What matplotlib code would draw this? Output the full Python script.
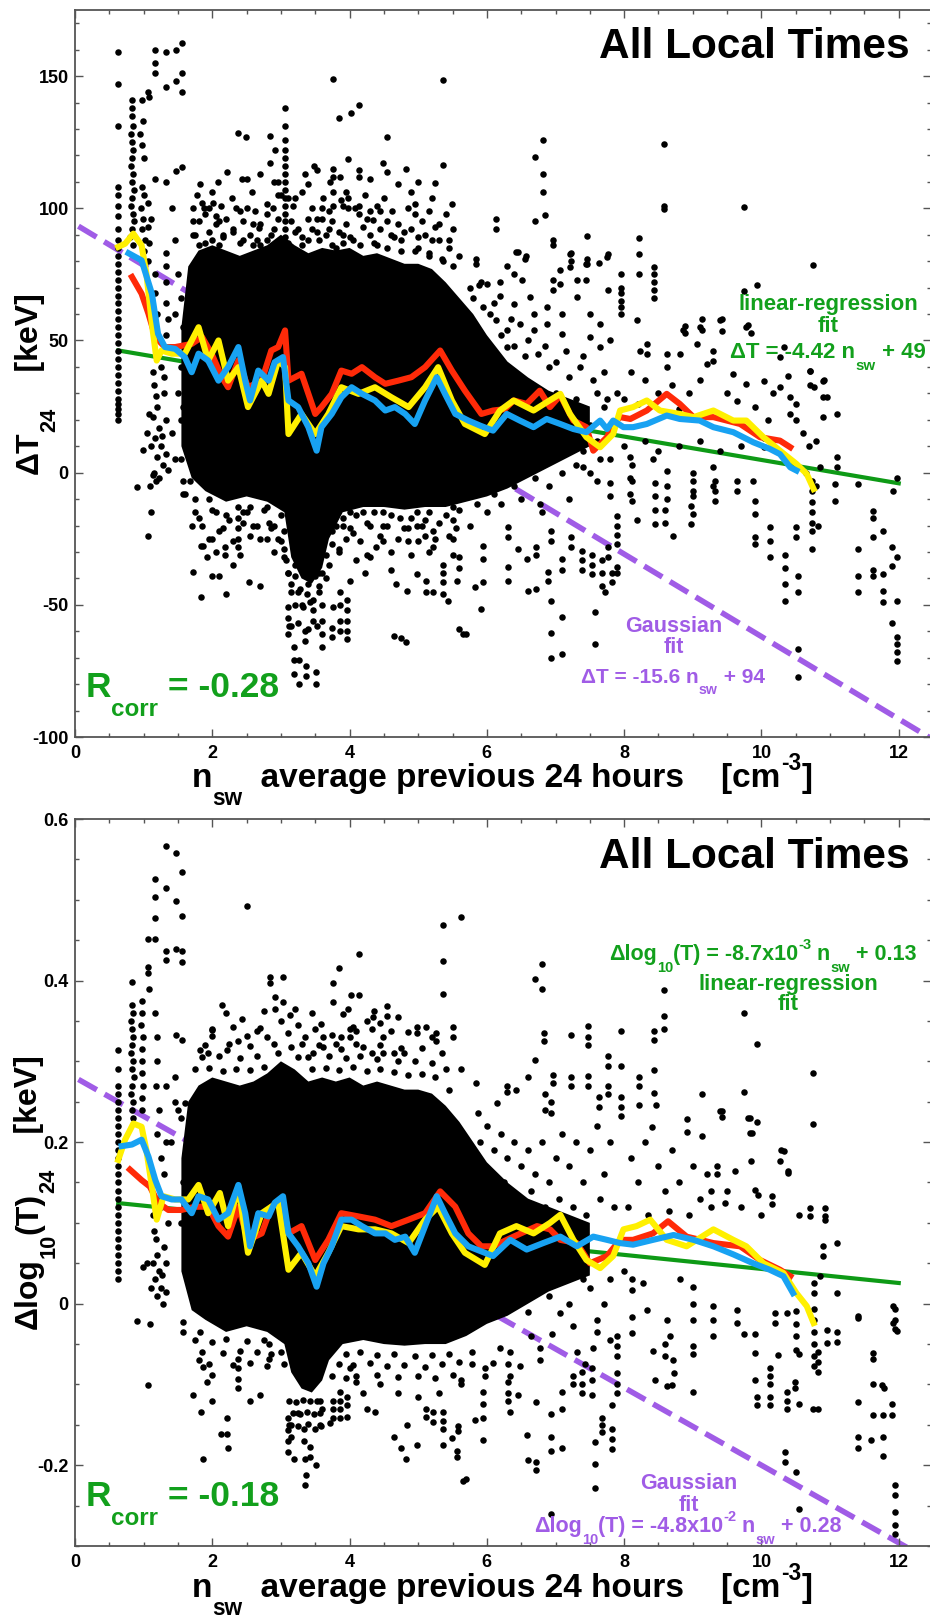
import numpy as np
import matplotlib
matplotlib.use("Agg")
import matplotlib.pyplot as plt
from matplotlib.ticker import MultipleLocator, FixedLocator, FixedFormatter
from matplotlib.transforms import IdentityTransform

plt.rcParams['font.family'] = ['Liberation Sans', 'DejaVu Sans']
plt.rcParams['font.weight'] = 'bold'
plt.rcParams['axes.unicode_minus'] = False

# ---------------- DATA : top panel (Delta T_24, keV) ----------------
top_scatter = [
    (0.63, 20), (0.63, 22), (0.63, 24), (0.63, 26), (0.63, 28), (0.63, 31), (0.63, 34), (0.63, 37),
    (0.63, 40), (0.63, 43), (0.63, 46), (0.63, 49), (0.63, 52), (0.63, 55), (0.63, 58), (0.63, 61),
    (0.63, 64), (0.63, 67), (0.63, 70), (0.63, 73), (0.63, 76), (0.63, 79), (0.63, 82), (0.63, 85),
    (0.63, 88), (0.63, 92), (0.63, 97), (0.63, 101), (0.63, 105), (0.63, 108), (0.63, 131), (0.63, 147), (0.63, 159),
    (0.83, 141), (0.83, 138), (0.83, 135), (0.84, 131), (0.82, 128), (0.83, 125), (0.85, 122), (0.83, 119),
    (0.82, 116), (0.84, 113), (0.83, 110), (0.86, 107), (0.83, 104), (0.81, 101), (0.84, 98), (0.86, 95),
    (0.83, 92), (0.8, 89), (0.85, 86),
    (0.97, 141), (0.99, 133), (0.95, 128), (0.98, 124), (1.0, 119), (0.97, 108), (1.0, 105), (0.96, 100),
    (0.99, 96), (0.97, 92), (1.02, 88), (1.0, 84), (0.99, 8.6), (0.91, -5.3),
    (1.07, 144), (1.08, 142), (1.06, 102), (1.1, 96), (1.09, -5), (1.1, -15), (1.07, -24), (1.1, 10), (1.05, 15), (1.08, 22),
    (1.13, 38), (1.15, 33), (1.18, 29), (1.2, 25), (1.14, 21), (1.22, 17), (1.17, 13), (1.25, 10), (1.2, 6),
    (1.28, 3), (1.15, 0), (1.23, -2), (1.3, 30), (1.32, 20), (1.27, 14), (1.33, 7), (1.35, 1), (1.2, 45),
    (1.25, 40), (1.3, 36), (1.13, -1), (1.18, -3),
    (1.17, 160), (1.17, 155), (1.17, 151), (1.17, 111), (1.32, 159), (1.32, 146), (1.32, 110), (1.47, 160),
    (1.47, 148), (1.47, 114), (1.56, 162.5), (1.56, 151), (1.56, 144), (1.56, 115.5),
    (1.06, 93), (1.08, 87), (1.06, 80), (1.16, 75), (1.17, 68), (1.19, 60), (1.33, 83), (1.33, 78), (1.33, 72),
    (1.33, 64), (1.35, 58), (1.32, 52),
    (1.42, 100), (1.45, 88), (1.5, 75), (1.55, 66), (1.45, 60), (1.58, 45), (1.5, 30), (1.55, 20), (1.58, -3),
    (1.6, -8), (1.67, -3), (1.42, 15), (1.45, 5),
    (1.58, 55), (1.6, 50), (1.55, 40), (1.6, 35), (1.57, 25), (1.62, 15), (1.55, 5),
    (1.72, 100), (1.72, 95), (1.72, 90), (1.82, 109), (1.85, 102), (1.9, 98), (1.95, 100), (2.01, 102),
    (2.05, 97), (2.1, 95), (1.8, 86), (2.0, 88), (2.15, 90), (2.22, 113.7), (2.38, 128.4), (2.49, 127),
    (2.51, 111), (2.4, 99), (2.5, 100), (2.3, 92), (2.45, 88), (2.6, 94), (2.68, 92.5), (2.69, 113),
    (2.8, 101.5), (2.8, 98), (2.84, 127.2), (2.84, 117), (2.91, 122), (2.9, 110), (2.95, 105), (2.7, 86), (2.85, 90),
    (3.06, 138), (3.06, 131), (3.06, 126), (3.06, 122), (3.06, 119), (3.06, 116), (3.06, 113), (3.06, 110),
    (3.06, 107), (3.06, 104), (3.06, 101), (3.06, 98), (3.06, 95), (3.06, 92), (3.06, 89),
    (3.1, 104), (3.2, 104), (3.35, 113), (3.48, 116), (3.53, 114.5), (3.6, 100), (3.6, 96), (3.53, 96),
    (3.53, 91), (3.4, 88), (3.25, 92), (3.76, 148.9), (3.85, 134), (4.02, 136), (4.14, 138.9), (3.98, 118.8),
    (4.14, 114.5), (4.14, 112), (3.76, 115), (3.76, 112), (3.86, 112), (3.98, 104), (3.98, 100), (3.76, 106),
    (3.76, 101), (3.88, 103), (4.14, 101), (4.14, 98), (3.7, 92), (3.9, 90), (4.05, 88), (4.2, 93), (3.8, 85),
    (4.48, 117.2), (4.54, 127), (4.54, 113.7), (4.82, 115), (5.24, 109.6), (5.36, 148.5), (5.36, 116.2),
    (5.49, 101.5), (4.95, 101.8), (4.95, 98), (4.44, 99), (4.3, 99), (4.34, 95.6), (4.6, 90), (4.75, 88),
    (4.9, 92), (5.1, 90), (5.24, 93), (5.3, 88), (5.45, 85), (5.6, 82), (5.0, 85), (4.4, 86), (5.15, 82), (5.36, 80),
    (5.84, 81), (5.84, 79), (5.88, 71), (5.91, 72), (6.14, 96), (6.14, 92), (6.29, 78), (6.45, 83.4),
    (6.57, 82), (6.7, 119.4), (6.82, 126), (6.82, 112.9), (6.82, 106.2), (6.85, 97.3), (6.7, 95), (6.96, 87.9),
    (6.96, 86), (7.22, 83), (7.22, 80), (7.46, 89.5), (7.46, 81), (7.46, 79), (7.64, 79.3), (7.77, 82.6),
    (6.43, 83.5), (6.56, 80.9), (6.39, 75.2), (6.51, 72.7), (6.39, 63.9), (6.19, 72), (6.19, 67), (6.63, 66.4),
    (6.0, 71.5), (5.95, 62.6), (6.14, 57.6), (6.29, 53.8), (6.29, 47.5), (6.48, 56.3), (6.68, 60), (6.68, 54),
    (6.87, 62.6), (6.87, 56.3), (6.97, 72.7), (6.97, 69), (7.07, 76.5), (7.07, 71.5), (7.21, 82.8), (7.21, 77.7),
    (7.09, 60), (7.09, 52.5), (7.31, 72.7), (7.31, 66.4), (7.45, 79), (7.45, 72.7), (7.5, 60.1), (7.75, 81.6),
    (7.77, 69), (7.5, 51.3), (7.65, 56.3), (7.65, 47.5), (7.79, 50), (7.96, 75), (7.96, 68), (7.96, 62.6),
    (5.8, 66), (5.75, 70), (6.05, 60), (6.2, 52), (6.4, 48), (6.55, 44), (6.75, 45), (6.9, 40), (7.0, 42),
    (7.2, 36), (7.35, 40), (7.55, 35), (7.7, 38), (6.1, 64), (6.35, 58), (6.6, 50), (6.85, 48), (7.15, 46),
    (7.4, 44), (7.6, 30), (7.75, 28),
    (6.7, 5), (6.9, 12), (7.1, 20), (7.3, 28), (7.5, 18), (7.7, 25), (7.9, 30), (6.8, 25), (7.0, 30),
    (7.4, 2), (7.6, -3), (7.2, -10), (6.6, 15), (6.8, -15),
    (7.95, 70), (7.95, 65), (7.95, 60), (8.22, 88.9), (8.22, 82.6), (8.22, 75), (8.44, 77.8), (8.44, 75),
    (8.44, 72), (8.44, 69), (8.44, 66), (8.58, 124.2), (8.58, 101), (8.58, 99.6), (9.75, 100.5), (10.75, 78.4),
    (9.94, 71.1), (9.75, 68.6), (8.18, 57.6), (8.33, 48.7), (8.33, 45), (8.23, 46.2), (8.62, 45), (8.62, 40),
    (8.81, 45), (8.86, 53.8), (9.1, 55), (9.06, 48.7), (9.3, 46), (9.3, 42.4), (9.4, 57.6), (9.2, 41.2),
    (9.59, 37.4), (9.78, 55), (9.78, 33.6), (10.03, 34.8), (10.27, 32.3), (10.17, 30), (10.42, 28.5),
    (10.42, 22.2), (10.51, 26), (10.51, 20), (10.71, 38.6), (10.76, 32.3), (10.9, 34.8), (10.9, 28.5),
    (10.9, 21), (11.1, 22.2), (9.13, 58.3), (9.13, 53.8), (9.42, 58.3), (8.89, 55.5), (8.89, 53), (9.42, 53.5),
    (9.81, 56), (9.85, 53), (10.38, 36.4), (10.71, 38.4), (10.91, 35), (10.95, 28.5), (10.71, 33), (10.27, 43.7),
    (10.33, 47.5), (8.1, 38), (8.3, 35), (8.5, 30), (8.7, 33), (8.95, 30), (9.1, 35), (9.5, 30), (9.65, 27),
    (9.9, 25), (10.1, 20), (8.0, 28), (8.2, 26), (8.8, 24), (9.2, 22), (10.6, 15), (10.7, 10), (10.8, 12),
    (11.1, 5.8), (11.1, 2),
    (5.83, -43.4), (5.95, -41.5), (5.92, -51.6), (5.7, -61), (5.95, -27.6), (5.95, -32.7), (5.75, -20),
    (5.85, -12), (5.9, -5), (6.0, -15), (6.1, -8), (6.31, -20.7), (6.31, -24.5), (6.31, -35.8), (6.31, -40.9),
    (6.46, -28.9), (6.58, -32.7), (6.6, -44.7), (6.72, -44), (6.72, -28), (6.72, -31), (6.77, -11.8),
    (6.89, -37.7), (6.89, -40.9), (6.93, -48.5), (6.93, -60.5), (6.93, -70), (7.09, -68.7), (7.09, -54.5),
    (7.09, -32.7), (7.09, -37), (6.94, -22), (6.94, -25.7), (7.23, -24.5), (7.23, -28), (7.38, -29.5),
    (7.38, -33), (7.38, -37), (7.53, -31), (7.53, -35), (7.53, -38.4), (7.57, -52.9), (7.57, -64.9),
    (7.67, -33), (7.67, -38), (7.67, -43), (7.77, -28), (7.77, -32), (7.82, -38), (7.82, -41.5), (7.89, -16.3),
    (7.89, -20), (7.89, -23.5), (7.89, -27), (7.89, -35.8), (7.89, -38), (7.72, -45.3), (8.11, 3), (8.11, -3),
    (8.11, -10.6), (8.45, -4), (8.45, -9), (8.45, -14), (8.45, -19.4), (8.59, -14), (8.59, -19), (8.71, -23.8),
    (8.98, -19.4), (8.98, -12.5), (9.0, -3), (9.0, -9), (9.32, -3), (9.32, -7), (9.32, -10.6), (9.64, -3),
    (9.64, -6.8), (9.9, -10.6), (9.9, -15.6), (9.9, -24.5), (9.9, -27), (10.12, -20.7), (10.12, -26),
    (10.12, -32), (10.34, -31), (10.34, -36), (10.34, -42), (10.34, -48.5), (10.51, -20.7), (10.51, -24.5),
    (10.53, -39), (10.53, -45.3), (10.53, -66.8), (10.53, -77.2), (10.73, -3), (10.73, -7), (10.73, -11),
    (10.73, -15), (10.73, -19), (10.73, -22), (10.73, -28.9), (10.83, -20), (10.8, -5), (10.65, 0), (10.85, 2),
    (11.07, -4.3), (11.07, -10.6), (11.41, -28.9), (11.41, -39), (11.41, -45.3), (11.63, -14.4), (11.63, -17),
    (11.63, -24.5), (11.63, -37), (11.63, -39), (11.77, -22), (11.77, -38.4), (11.77, -44.7), (11.77, -49),
    (11.9, -28.3), (11.9, -35.2), (11.97, -32), (11.97, -48.5), (11.9, -56.7), (11.97, -62.3), (11.97, -65),
    (11.97, -68), (11.97, -71.2), (11.92, -7), (11.97, -2), (11.41, -4.3),
    (8.62, 0.8), (8.62, -5), (8.62, -10), (8.42, 5), (8.08, 5.8), (8.08, -2), (8.08, -8), (8.18, -18),
    (9.01, 0), (9.01, -7), (9.01, -15.6), (9.3, 2), (9.3, -5), (9.88, -3), (10.03, 13), (10.03, 9.6),
    (7.79, -4), (7.79, -9), (7.65, 5), (7.5, 0), (7.3, 3), (7.1, 0), (6.9, -5), (6.7, -2), (6.5, -10),
    (6.4, -5), (6.2, -12), (7.0, 8), (7.2, 10), (7.4, 8), (7.6, 12), (7.8, 5), (8.0, 10), (8.3, 12), (8.5, 8),
    (8.8, 10), (9.1, 12), (9.4, 8), (9.7, 10),
    (1.58, -8), (1.81, -17), (1.84, -27.6), (1.87, -27.6), (1.93, -32), (2.0, -39), (2.1, -39), (1.72, -37.7),
    (1.84, -47), (2.2, -46), (2.19, -28), (2.19, -31), (2.37, -13), (2.37, -17), (2.37, -21), (2.37, -25),
    (2.37, -28), (2.53, -41.5), (2.7, -42.8), (2.82, -19), (2.79, -13), (2.55, -13), (3.04, -29), (3.07, -33),
    (3.1, -38), (3.1, -51), (3.1, -55), (3.14, -58), (3.1, -61), (3.19, -66), (3.19, -71), (3.19, -76),
    (3.27, -80), (3.27, -71), (3.37, -73), (3.37, -77), (3.51, -75.6), (3.51, -80), (3.35, -60), (3.35, -63.6),
    (3.47, -48), (3.47, -52), (3.47, -56), (3.55, -38), (3.55, -43), (3.6, -56), (3.6, -61), (3.6, -66),
    (3.74, -58.6), (3.74, -62), (3.76, -51), (3.86, -45), (3.86, -50), (3.86, -56), (3.86, -60), (3.96, -48),
    (3.96, -52), (3.96, -56), (3.96, -60), (3.96, -63), (3.84, -29), (4.0, -41), (4.1, -33), (4.25, -31),
    (4.22, -38), (4.05, -23), (4.39, -28), (4.6, -37), (4.68, -42), (4.65, -61.7), (4.75, -62.6), (4.82, -64.2),
    (4.83, -44.7), (4.98, -38.4), (5.12, -41), (5.12, -45), (5.22, -45.3), (5.36, -35), (5.36, -38),
    (5.36, -41.5), (5.36, -46), (5.43, -48.5), (5.56, -41), (5.59, -59), (5.65, -61), (5.6, -32), (5.6, -36),
    (5.5, -8), (5.5, -13), (5.5, -18), (5.5, -25), (4.49, -10), (4.49, -15), (4.49, -20), (4.49, -26),
    (4.73, -12), (4.73, -17), (4.85, -21), (4.85, -26), (4.98, -15), (4.98, -20), (5.1, -18), (5.1, -24),
    (5.22, -22), (5.22, -28), (4.2, -15), (4.3, -20), (4.0, -15), (3.9, -20), (3.75, -22), (3.7, -35),
    (3.65, -40), (3.2, -35), (3.25, -45), (3.4, -42), (3.3, -50), (3.45, -35), (3.15, -42), (2.9, -20),
    (2.95, -25), (2.6, -20), (2.7, -25), (2.45, -15), (2.25, -18), (2.05, -15), (1.95, -10), (2.1, -22),
    (1.75, -10), (1.7, -20), (2.0, -25), (2.3, -35),
]
top_upper_fringe = [
    (1.75, 90), (1.95, 91), (2.15, 89), (2.3, 91), (2.55, 90), (2.65, 88), (2.9, 92), (3.2, 91), (3.3, 89),
    (3.45, 92), (3.65, 90), (3.85, 91), (4.0, 89), (4.3, 90), (4.45, 92), (4.65, 89), (4.8, 91), (5.0, 89),
    (5.2, 88), (5.45, 88),
    (1.8, 95), (2.05, 94), (2.2, 96), (2.45, 95), (2.7, 94), (2.95, 96), (3.15, 95), (3.4, 96), (3.75, 95),
    (3.95, 94), (4.25, 96), (4.55, 95), (4.7, 94), (5.05, 95), (5.3, 94), (5.5, 92),
    (1.88, 100), (2.12, 101), (2.35, 100), (2.62, 99), (2.88, 100), (3.18, 101), (3.45, 100), (3.7, 99),
    (3.9, 101), (4.08, 100), (4.4, 101), (4.62, 99), (4.85, 100), (5.15, 99), (5.4, 98),
    (1.78, 105), (2.0, 106), (2.28, 104), (2.58, 106), (3.0, 105), (3.3, 106), (3.62, 104), (3.95, 106),
    (4.22, 105), (4.5, 104), (4.9, 106), (5.2, 104),
    (2.08, 110), (2.44, 111), (2.95, 110), (3.4, 109), (3.72, 110), (4.3, 111), (4.7, 109), (5.0, 110),
    (1.9, 87), (2.1, 86), (2.4, 87), (2.6, 86), (2.8, 88), (3.1, 87), (3.3, 86), (3.55, 88), (3.75, 86),
    (3.9, 87), (4.15, 86), (4.35, 87), (4.55, 85), (4.75, 84), (4.95, 84), (5.15, 83), (5.35, 81), (5.5, 78),
]
top_lower_fringe = [
    (1.75, -15), (2.0, -14), (2.2, -16), (2.5, -15), (2.75, -14), (3.0, -16), (3.9, -17), (4.1, -16),
    (4.35, -15), (4.6, -16), (4.9, -17), (5.15, -15), (5.4, -16), (5.6, -14),
    (1.85, -20), (2.15, -21), (2.45, -19), (2.65, -20), (2.85, -21), (3.05, -22), (3.8, -20), (4.0, -21),
    (4.25, -19), (4.55, -20), (4.8, -21), (5.05, -20), (5.3, -19), (5.55, -21),
    (1.95, -25), (2.3, -26), (2.55, -24), (2.8, -25), (3.0, -26), (3.75, -27), (3.95, -25), (4.15, -26),
    (4.45, -24), (4.7, -25), (5.0, -26), (5.25, -25), (5.45, -24),
    (2.05, -30), (2.4, -31), (2.9, -30), (3.05, -32), (3.65, -31), (3.85, -30), (4.3, -32), (4.6, -30),
    (4.9, -31), (5.15, -30), (5.5, -31),
    (3.1, -38), (3.2, -39), (3.3, -37), (3.4, -38), (3.5, -39), (3.6, -38),
    (3.15, -45), (3.28, -44), (3.38, -46), (3.55, -45), (3.2, -50), (3.32, -51), (3.43, -49), (3.6, -50),
    (3.12, -58), (3.25, -57), (3.4, -59), (3.52, -58),
]
top_n = [p[0] for p in top_scatter + top_upper_fringe + top_lower_fringe]
top_dT = [p[1] for p in top_scatter + top_upper_fringe + top_lower_fringe]

top_core_n = [1.55, 1.65, 1.8, 2.0, 2.2, 2.4, 2.6, 2.8, 3.0, 3.2, 3.4, 3.6, 3.8, 4.0, 4.2, 4.4, 4.6, 4.8, 5.0,
              5.2, 5.4, 5.6, 5.8, 6.0, 6.3, 6.6, 6.9, 7.2, 7.5,
              7.5, 7.2, 6.9, 6.6, 6.3, 6.0, 5.7, 5.4, 5.1, 4.8, 4.5, 4.2, 3.9, 3.7, 3.6, 3.45, 3.3, 3.15, 3.05,
              2.8, 2.5, 2.2, 1.9, 1.7, 1.55]
top_core_dT = [55, 78, 84, 86, 84, 82, 84, 86, 90, 86, 83, 85, 84, 85, 82, 83, 81, 79, 79,
               77, 72, 66, 60, 52, 42, 36, 31, 28, 25,
               10, 6, 2, -2, -6, -9, -11, -13, -13, -14, -13, -13, -15, -25, -36, -42, -40, -32, -15,
               -11, -9, -11, -7, -2, 10]

top_red_n = [0.83, 0.97, 1.07, 1.17, 1.31, 1.46, 1.70, 1.85, 1.99, 2.14, 2.23, 2.38, 2.52, 2.72, 2.86, 2.96,
             3.06, 3.11, 3.30, 3.50, 3.59, 3.74, 3.88, 4.03, 4.18, 4.37, 4.52, 4.71, 4.90, 5.10, 5.32, 5.49,
             5.68, 5.92, 6.09, 6.26, 6.39, 6.58, 6.77, 6.92, 7.07, 7.26, 7.45, 7.55, 7.75, 7.84, 7.94, 8.09,
             8.33, 8.62, 8.81, 9.01, 9.30, 9.69, 9.98, 10.27, 10.42]
top_red_dT = [74, 67.7, 60.1, 51.3, 47.5, 47.5, 48.7, 51.3, 45, 36.1, 32.3, 42.4, 32.3, 34.8, 46.2, 47.5,
              53.8, 34.8, 37.4, 22.2, 24.8, 29.8, 38.6, 37.4, 39.9, 36.1, 33.6, 34.8, 36.1, 39.9, 46.2, 38.6,
              31, 22.2, 23.5, 24, 27.3, 26, 31, 24.8, 29.2, 19.7, 17.2, 8.3, 13.4, 18.4, 21, 20.3,
              23.5, 29.8, 26, 21, 21, 18.4, 13.4, 12.1, 9.6]
top_yel_n = [0.63, 0.73, 0.85, 0.97, 1.04, 1.12, 1.19, 1.26, 1.41, 1.60, 1.80, 1.94, 2.09, 2.23, 2.38, 2.52,
             2.72, 2.82, 2.96, 3.06, 3.11, 3.30, 3.50, 3.69, 3.88, 4.13, 4.37, 4.61, 4.86, 5.10, 5.29, 5.49,
             5.68, 5.97, 6.19, 6.39, 6.68, 6.87, 7.07, 7.21, 7.45, 7.65, 7.84, 7.94, 8.13, 8.33, 8.52, 8.81,
             9.01, 9.30, 9.59, 9.78, 10.03, 10.27, 10.51, 10.66, 10.76]
top_yel_dT = [85.4, 86.6, 90.4, 86, 75.3, 56.3, 42.4, 46.2, 45, 45, 55, 42.4, 50, 34.8, 39.9, 24.8,
              34.8, 29.8, 42.4, 39.9, 14.6, 22.2, 14.6, 22.2, 32.3, 29.8, 32.3, 28.5, 24.8, 32.3, 39.9, 27.3,
              18.4, 14.6, 23.5, 27.3, 23.5, 26.6, 29.8, 22.2, 13.4, 9.6, 14.6, 23.5, 24.8, 27.3, 23.5, 22.2,
              21, 23.5, 19.7, 19.7, 13.4, 8.3, 3.3, -0.5, -6.2]
top_blu_n = [0.78, 0.97, 1.12, 1.21, 1.31, 1.46, 1.6, 1.70, 1.80, 1.94, 2.09, 2.23, 2.38, 2.48, 2.55, 2.67,
             2.82, 2.91, 3.03, 3.11, 3.25, 3.40, 3.52, 3.59, 3.74, 3.88, 4.03, 4.18, 4.37, 4.52, 4.66, 4.81,
             4.95, 5.10, 5.27, 5.39, 5.54, 5.73, 5.9, 6.09, 6.29, 6.48, 6.68, 6.87, 7.07, 7.26, 7.45, 7.65,
             7.75, 7.84, 7.99, 8.13, 8.33, 8.62, 8.81, 9.10, 9.30, 9.59, 9.88, 10.12, 10.27, 10.42, 10.51]
top_blu_dT = [83, 80.3, 67.7, 52.5, 47.5, 46.8, 43.7, 38, 45, 42.4, 34.8, 39.9, 47.5, 34.8, 27.3, 38.6,
              34.8, 41.8, 43.7, 27.3, 24.8, 17.2, 8.3, 17.2, 22.2, 28.5, 32.3, 29.8, 27.3, 23.5, 24.8, 22.2,
              18.4, 27.3, 36.1, 29.8, 22.2, 19.7, 17.8, 15.9, 22.2, 19.7, 17.2, 20.3, 18.4, 16.5, 15.3, 19.7,
              16.5, 19.7, 17.2, 17.2, 18.4, 21.6, 20.3, 19.7, 17.2, 15.3, 11.5, 9, 7, 2, 0.8]

top_lin_slope, top_lin_icpt = -4.42, 49
top_gau_slope, top_gau_icpt = -15.6, 94

# ---------------- DATA : bottom panel (Delta log10(T)_24) ----------------
bot_scatter = [
    (0.63, 0.03), (0.63, 0.04), (0.63, 0.05), (0.63, 0.06), (0.63, 0.07), (0.63, 0.08), (0.63, 0.09),
    (0.63, 0.10), (0.63, 0.11), (0.63, 0.12), (0.63, 0.13), (0.63, 0.14), (0.63, 0.15), (0.63, 0.16),
    (0.63, 0.17), (0.63, 0.18), (0.63, 0.19), (0.63, 0.20), (0.63, 0.21), (0.63, 0.22), (0.63, 0.23),
    (0.63, 0.24), (0.63, 0.25), (0.63, 0.26), (0.63, 0.27), (0.63, 0.29), (0.63, 0.314),
    (0.83, 0.398), (0.83, 0.37), (0.84, 0.36), (0.82, 0.35), (0.83, 0.34), (0.85, 0.33), (0.83, 0.32),
    (0.82, 0.31), (0.84, 0.30), (0.83, 0.29), (0.86, 0.28), (0.83, 0.27), (0.81, 0.26), (0.84, 0.25),
    (0.83, 0.24), (0.85, 0.23),
    (0.97, 0.375), (0.98, 0.36), (0.96, 0.345), (0.99, 0.33), (0.97, 0.315), (0.98, 0.30), (0.97, 0.285),
    (0.99, 0.27), (0.98, 0.255), (0.97, 0.24), (0.99, 0.045), (0.91, -0.021),
    (1.06, 0.451), (1.06, 0.417), (1.06, 0.409), (1.08, 0.39), (1.09, -0.025), (1.07, -0.101), (1.1, 0.02),
    (1.05, 0.05),
    (1.13, 0.11), (1.15, 0.09), (1.18, 0.08), (1.2, 0.06), (1.14, 0.05), (1.22, 0.04), (1.17, 0.03),
    (1.25, 0.02), (1.2, 0.01), (1.28, 0.0), (1.3, 0.07), (1.32, 0.05), (1.27, 0.035), (1.33, 0.015),
    (1.35, 0.1), (1.2, 0.13), (1.25, 0.12),
    (1.32, 0.567), (1.47, 0.558), (1.56, 0.534), (1.17, 0.526), (1.32, 0.514), (1.17, 0.503), (1.47, 0.499),
    (1.56, 0.48), (1.17, 0.478), (1.17, 0.451), (1.32, 0.437), (1.47, 0.439), (1.56, 0.437), (1.32, 0.425),
    (1.56, 0.423), (1.47, 0.333), (1.56, 0.326), (1.32, 0.27), (1.45, 0.25), (1.5, 0.24), (1.55, 0.23),
    (1.6, 0.248),
    (1.17, 0.36), (1.19, 0.33), (1.2, 0.3), (1.18, 0.27), (1.22, 0.24), (1.2, 0.21), (1.25, 0.18),
    (1.33, 0.2), (1.3, 0.16), (1.45, 0.28), (1.4, 0.2), (1.58, 0.15), (1.55, 0.1), (1.6, 0.06),
    (2.5, 0.492), (2.84, 0.405), (2.84, 0.397), (3.03, 0.405), (2.91, 0.38), (2.91, 0.365), (3.03, 0.374),
    (3.13, 0.357), (2.14, 0.37), (2.43, 0.353), (2.69, 0.341), (2.5, 0.331), (2.38, 0.325), (1.99, 0.339),
    (1.99, 0.331), (1.82, 0.314), (1.94, 0.31), (2.21, 0.314),
    (3.35, 0.33), (3.47, 0.31), (3.58, 0.346), (3.61, 0.33), (3.61, 0.318), (3.75, 0.333), (3.88, 0.33),
    (3.88, 0.315), (4.0, 0.34), (4.0, 0.33), (4.1, 0.338), (4.1, 0.322), (4.25, 0.35), (4.32, 0.34),
    (4.32, 0.31), (4.49, 0.33), (4.49, 0.31), (4.65, 0.31), (4.8, 0.31), (4.98, 0.343), (4.98, 0.335),
    (5.12, 0.343), (5.26, 0.335), (5.26, 0.325), (5.5, 0.343), (5.5, 0.33), (5.63, 0.29), (5.63, 0.479),
    (5.36, 0.469), (5.36, 0.424), (5.36, 0.383), (4.14, 0.433), (3.85, 0.416), (3.76, 0.397), (3.76, 0.374),
    (4.02, 0.382), (4.14, 0.382), (3.98, 0.365), (4.54, 0.368), (4.54, 0.356), (4.44, 0.347), (4.34, 0.355),
    (6.81, 0.42), (6.7, 0.402), (6.81, 0.39), (6.83, 0.335), (6.83, 0.325), (7.22, 0.333), (7.47, 0.344),
    (7.47, 0.33), (7.47, 0.32), (7.96, 0.338), (7.77, 0.306), (7.77, 0.294), (7.96, 0.294), (7.63, 0.256),
    (7.63, 0.244), (7.47, 0.282), (7.47, 0.269), (7.23, 0.28), (7.23, 0.27), (6.96, 0.283), (6.96, 0.273),
    (6.7, 0.302), (6.6, 0.281), (6.85, 0.26), (6.85, 0.24), (6.94, 0.25), (6.94, 0.236), (6.43, 0.265),
    (6.29, 0.27), (6.29, 0.262), (6.15, 0.248), (5.87, 0.236), (5.84, 0.273), (7.95, 0.256), (7.95, 0.244),
    (7.95, 0.232), (7.77, 0.27), (7.77, 0.26), (5.9, 0.2), (6.0, 0.22), (6.1, 0.19), (6.2, 0.21), (6.3, 0.18),
    (6.4, 0.2), (6.5, 0.17), (6.6, 0.19), (6.7, 0.16), (6.8, 0.2), (6.9, 0.15), (7.0, 0.18), (7.1, 0.21),
    (7.2, 0.17), (7.3, 0.2), (7.4, 0.15), (7.5, 0.19), (7.6, 0.22), (7.7, 0.16), (7.8, 0.2), (5.95, 0.16),
    (6.05, 0.14), (6.25, 0.15), (6.45, 0.13), (6.65, 0.14), (6.85, 0.12), (7.05, 0.13), (7.25, 0.12),
    (7.45, 0.11), (7.65, 0.13), (7.85, 0.12),
    (6.1, 0.0), (6.3, 0.02), (6.6, -0.01), (6.9, 0.01), (7.2, 0.0), (7.5, 0.02), (7.7, 0.0), (8.0, 0.04),
    (6.5, 0.03), (7.0, 0.035), (7.4, 0.03), (7.8, 0.03),
    (8.58, 0.388), (8.58, 0.356), (8.58, 0.34), (8.44, 0.338), (8.44, 0.327), (9.75, 0.36), (9.94, 0.321),
    (9.75, 0.262), (10.75, 0.285), (10.75, 0.223), (8.22, 0.28), (8.22, 0.27), (8.44, 0.289), (8.44, 0.261),
    (8.47, 0.246), (8.4, 0.219), (8.22, 0.246), (9.13, 0.259), (9.42, 0.238), (9.42, 0.231), (8.91, 0.228),
    (8.91, 0.213), (9.13, 0.207), (9.81, 0.23), (9.94, 0.225), (9.86, 0.211), (10.33, 0.189), (10.27, 0.176),
    (10.38, 0.164), (9.85, 0.176), (9.61, 0.164), (9.35, 0.17), (9.35, 0.16), (10.71, 0.118), (10.92, 0.118),
    (10.92, 0.108), (10.54, 0.11), (10.15, 0.133), (10.15, 0.123), (9.9, 0.141), (9.95, 0.135), (9.47, 0.125),
    (9.27, 0.14), (9.27, 0.12), (10.29, 0.19), (10.39, 0.162), (9.83, 0.23), (9.83, 0.211), (9.4, 0.238),
    (8.1, 0.18), (8.2, 0.15), (8.3, 0.2), (8.5, 0.17), (8.6, 0.14), (8.7, 0.19), (8.8, 0.15), (9.0, 0.17),
    (9.1, 0.13), (9.2, 0.16), (9.5, 0.14), (9.7, 0.12), (10.0, 0.11), (8.05, 0.12), (8.35, 0.11),
    (8.65, 0.115), (8.95, 0.11), (10.71, 0.108), (10.93, 0.104), (11.1, 0.075), (10.9, 0.071), (10.9, 0.059),
    (11.1, 0.013), (10.76, 0.026), (10.76, 0.013), (10.85, 0.034), (10.76, -0.007), (10.76, -0.02),
    (10.76, -0.035), (10.76, -0.05), (10.76, -0.065), (10.76, -0.077), (10.95, -0.032), (10.95, -0.049),
    (11.1, -0.035), (11.1, -0.048), (11.41, -0.018), (11.63, -0.061), (11.63, -0.069), (11.63, -0.1),
    (11.78, -0.104), (11.92, -0.003), (11.92, -0.024), (11.97, -0.034), (10.51, -0.009), (10.51, -0.025),
    (10.51, -0.04), (10.51, -0.057), (10.37, -0.012), (10.2, -0.012), (10.2, -0.024), (10.12, -0.08),
    (9.9, -0.061), (9.9, -0.094), (9.9, -0.038), (9.64, -0.008), (9.64, -0.024), (9.74, -0.038), (9.3, -0.003),
    (9.3, -0.02), (9.3, -0.04), (9.01, 0.021), (9.01, 0.0), (9.01, -0.02), (9.01, -0.053), (8.81, 0.03),
    (8.62, -0.02), (8.67, -0.04), (8.72, -0.086), (8.62, -0.102), (8.42, -0.059), (8.45, -0.094),
    (8.33, -0.008), (8.11, -0.016), (8.11, -0.036), (8.11, 0.03), (8.11, 0.017), (8.28, 0.025), (7.89, -0.04),
    (7.89, -0.052), (7.89, -0.065), (7.89, -0.086), (7.89, -0.1), (7.89, -0.11), (7.79, -0.045), (7.6, -0.02),
    (7.6, -0.035), (7.55, -0.055), (7.43, -0.075), (7.31, -0.06), (7.26, -0.028), (7.07, -0.012),
    (6.95, -0.037), (6.77, -0.055), (6.77, -0.07), (6.65, -0.04), (6.48, -0.077), (6.34, -0.06), (6.34, -0.09),
    (6.19, -0.055), (6.09, -0.073),
    (11.94, -0.006), (11.94, -0.02), (11.94, -0.031), (11.9, -0.124), (11.9, -0.138), (11.94, -0.225),
    (11.94, -0.237), (11.94, -0.258), (11.94, -0.274), (11.94, -0.285), (11.75, -0.101), (11.77, -0.138),
    (11.77, -0.165), (11.77, -0.188), (11.63, -0.138), (11.6, -0.169), (11.41, -0.122), (11.41, -0.165),
    (11.41, -0.179), (11.41, -0.015), (10.83, -0.06), (10.83, -0.072), (10.83, -0.085), (10.75, -0.13),
    (10.83, -0.13), (10.54, -0.062), (10.49, -0.097), (10.49, -0.105), (10.54, -0.124), (10.51, -0.208),
    (10.54, -0.254), (10.37, -0.109), (10.37, -0.12), (10.37, -0.13), (10.35, -0.184), (10.35, -0.196),
    (10.24, -0.064), (10.12, -0.089), (10.12, -0.1), (10.12, -0.115), (10.12, -0.125), (9.93, -0.115),
    (9.93, -0.125), (9.0, -0.109), (9.0, -0.062), (8.69, -0.101), (8.59, -0.05), (8.59, -0.065),
    (8.71, -0.07), (7.82, -0.155), (7.82, -0.167), (7.82, -0.18), (7.67, -0.142), (7.67, -0.15),
    (7.67, -0.159), (7.82, -0.125), (7.57, -0.199), (7.57, -0.228), (7.57, -0.171), (7.53, -0.08),
    (7.53, -0.095), (7.53, -0.113), (7.38, -0.085), (7.38, -0.1), (7.38, -0.11), (7.25, -0.09), (7.25, -0.1),
    (7.09, -0.109), (7.09, -0.13), (7.09, -0.179), (6.93, -0.136), (6.93, -0.165), (6.93, -0.182),
    (6.93, -0.26), (6.72, -0.196), (6.72, -0.206), (6.6, -0.194), (6.58, -0.163), (6.72, -0.122),
    (6.46, -0.113), (6.34, -0.134), (6.31, -0.11), (6.31, -0.12), (6.31, -0.075), (6.31, -0.097),
    (5.95, -0.109), (5.95, -0.124), (5.95, -0.142), (5.95, -0.169), (5.83, -0.144), (5.7, -0.217),
    (5.97, -0.08), (5.97, -0.09), (5.78, -0.06), (5.78, -0.075),
    (1.58, -0.023), (1.58, -0.035), (1.82, -0.035), (1.81, -0.07), (1.87, -0.078), (1.93, -0.097),
    (2.0, -0.088), (2.0, -0.12), (1.72, -0.113), (1.84, -0.134), (1.86, -0.192), (2.12, -0.161),
    (2.22, -0.161), (2.22, -0.142), (2.23, -0.179), (2.37, -0.068), (2.37, -0.08), (2.37, -0.093),
    (2.37, -0.105), (2.55, -0.12), (2.7, -0.113), (2.82, -0.068), (2.82, -0.05), (3.1, -0.142), (3.1, -0.156),
    (3.1, -0.17), (3.1, -0.184), (3.15, -0.15), (3.15, -0.165), (3.19, -0.192), (3.35, -0.192),
    (3.37, -0.212), (3.35, -0.225), (3.42, -0.178), (3.42, -0.19), (3.51, -0.2), (3.33, -0.155),
    (3.33, -0.17), (3.5, -0.155), (3.57, -0.12), (3.57, -0.135), (3.57, -0.15), (3.6, -0.13), (3.76, -0.12),
    (3.76, -0.13), (3.76, -0.142), (3.86, -0.109), (3.86, -0.12), (3.86, -0.13), (3.86, -0.142),
    (3.96, -0.115), (3.96, -0.125), (3.96, -0.14), (4.0, -0.08), (3.72, -0.148), (4.1, -0.097),
    (4.25, -0.13), (4.37, -0.134), (4.65, -0.165), (4.75, -0.179), (4.82, -0.192), (4.83, -0.15),
    (4.98, -0.175), (5.12, -0.13), (5.12, -0.14), (5.22, -0.134), (5.22, -0.147), (5.36, -0.134),
    (5.36, -0.145), (5.36, -0.155), (5.36, -0.175), (5.49, -0.166), (5.58, -0.152), (5.58, -0.158),
    (5.56, -0.183), (5.56, -0.19), (5.65, -0.22), (5.63, -0.095), (5.63, -0.1),
    (4.45, -0.1), (4.7, -0.11), (5.0, -0.115), (5.3, -0.11), (4.2, -0.11), (3.25, -0.135),
]
bot_upper_fringe = [
    (1.75, 0.29), (1.95, 0.292), (2.15, 0.288), (2.35, 0.291), (2.55, 0.289), (2.75, 0.293), (2.95, 0.31),
    (3.25, 0.305), (3.45, 0.29), (3.65, 0.292), (3.85, 0.289), (4.05, 0.293), (4.25, 0.288), (4.45, 0.29),
    (4.65, 0.287), (4.85, 0.283), (5.05, 0.284), (5.25, 0.28), (5.45, 0.265),
    (1.85, 0.305), (2.1, 0.307), (2.4, 0.304), (2.65, 0.306), (2.9, 0.322), (3.15, 0.318), (3.4, 0.305),
    (3.7, 0.306), (3.95, 0.304), (4.15, 0.307), (4.4, 0.303), (4.7, 0.3), (4.95, 0.301), (5.2, 0.298),
    (5.4, 0.29),
    (1.9, 0.32), (2.25, 0.322), (2.55, 0.319), (2.8, 0.33), (3.1, 0.335), (3.3, 0.322), (3.55, 0.32),
    (3.8, 0.321), (4.2, 0.318), (4.45, 0.32), (4.75, 0.317), (5.05, 0.316), (5.35, 0.31),
    (2.0, 0.34), (2.3, 0.342), (2.65, 0.338), (3.0, 0.35), (3.25, 0.345), (3.5, 0.34), (4.05, 0.342),
    (4.6, 0.338), (4.85, 0.336), (5.2, 0.33),
    (2.2, 0.36), (2.75, 0.362), (3.2, 0.365), (3.45, 0.36), (3.9, 0.358), (4.35, 0.362), (4.7, 0.355),
]
bot_lower_fringe = [
    (1.75, -0.045), (2.0, -0.047), (2.2, -0.044), (2.5, -0.046), (2.75, -0.045), (3.0, -0.06),
    (3.95, -0.062), (4.15, -0.06), (4.4, -0.064), (4.65, -0.062), (4.95, -0.065), (5.2, -0.063),
    (5.45, -0.062),
    (1.85, -0.06), (2.15, -0.061), (2.4, -0.059), (2.65, -0.06), (2.85, -0.062), (3.05, -0.075),
    (3.85, -0.075), (4.05, -0.076), (4.3, -0.074), (4.55, -0.077), (4.8, -0.076), (5.1, -0.078),
    (5.35, -0.075), (5.6, -0.072),
    (1.95, -0.075), (2.3, -0.076), (2.55, -0.074), (2.8, -0.077), (3.75, -0.09), (3.95, -0.092),
    (4.1, -0.09), (4.4, -0.088), (4.7, -0.091), (5.0, -0.09), (5.25, -0.092), (5.5, -0.088),
    (3.12, -0.12), (3.22, -0.122), (3.32, -0.119), (3.42, -0.121), (3.52, -0.12),
    (3.18, -0.135), (3.28, -0.137), (3.38, -0.134), (3.48, -0.136),
    (3.12, -0.15), (3.25, -0.152), (3.4, -0.149), (3.58, -0.151),
]
bot_n = [p[0] for p in bot_scatter + bot_upper_fringe + bot_lower_fringe]
bot_dlog = [p[1] for p in bot_scatter + bot_upper_fringe + bot_lower_fringe]

bot_core_n = top_core_n
bot_core_dlog = [0.18, 0.25, 0.27, 0.28, 0.275, 0.27, 0.275, 0.285, 0.3, 0.29, 0.275, 0.28, 0.275, 0.28,
                 0.27, 0.275, 0.27, 0.265, 0.265, 0.26, 0.245, 0.225, 0.2, 0.175, 0.15, 0.13, 0.12, 0.11, 0.1,
                 0.035, 0.025, 0.015, 0.0, -0.015, -0.025, -0.04, -0.05, -0.05, -0.052, -0.05, -0.045, -0.05,
                 -0.07, -0.095, -0.11, -0.105, -0.085, -0.05, -0.035, -0.028, -0.035, -0.02, -0.008, 0.04]

bot_red_n = [0.80, 0.97, 1.09, 1.21, 1.36, 1.55, 1.75, 1.94, 2.09, 2.23, 2.38, 2.52, 2.72, 2.86, 3.01, 3.11,
             3.30, 3.50, 3.69, 3.88, 4.13, 4.37, 4.61, 4.86, 5.10, 5.32, 5.54, 5.73, 5.92, 6.09, 6.39, 6.73,
             6.92, 7.07, 7.31, 7.50, 7.75, 7.94, 8.13, 8.42, 8.64, 8.91, 9.30, 9.69, 9.98, 10.27, 10.42]
bot_red_dlog = [0.166, 0.153, 0.145, 0.125, 0.116, 0.116, 0.120, 0.120, 0.096, 0.083, 0.120, 0.079, 0.087,
                0.120, 0.129, 0.087, 0.096, 0.054, 0.079, 0.112, 0.108, 0.104, 0.096, 0.104, 0.112, 0.139,
                0.120, 0.087, 0.071, 0.071, 0.083, 0.096, 0.092, 0.079, 0.075, 0.050, 0.059, 0.079, 0.079,
                0.087, 0.102, 0.083, 0.075, 0.071, 0.054, 0.042, 0.034]
bot_yel_n = [0.63, 0.73, 0.85, 0.97, 1.04, 1.12, 1.19, 1.29, 1.46, 1.65, 1.80, 1.94, 2.11, 2.23, 2.38, 2.52,
             2.72, 2.86, 2.96, 3.11, 3.30, 3.50, 3.69, 3.88, 4.13, 4.37, 4.61, 4.86, 5.10, 5.29, 5.49, 5.68,
             5.97, 6.19, 6.43, 6.68, 6.92, 7.07, 7.26, 7.45, 7.65, 7.84, 7.99, 8.18, 8.38, 8.62, 8.91, 9.30,
             9.59, 9.78, 10.03, 10.32, 10.51, 10.66, 10.76]
bot_yel_dlog = [0.178, 0.203, 0.223, 0.219, 0.190, 0.145, 0.104, 0.133, 0.129, 0.129, 0.147, 0.112, 0.137,
                0.096, 0.145, 0.063, 0.112, 0.120, 0.125, 0.042, 0.063, 0.034, 0.063, 0.096, 0.092, 0.092,
                0.087, 0.075, 0.104, 0.120, 0.087, 0.063, 0.048, 0.087, 0.096, 0.087, 0.100, 0.110, 0.079,
                0.054, 0.044, 0.059, 0.092, 0.096, 0.104, 0.079, 0.071, 0.092, 0.079, 0.071, 0.050, 0.038,
                0.013, -0.003, -0.024]
bot_blu_n = [0.68, 0.83, 0.97, 1.07, 1.17, 1.26, 1.41, 1.55, 1.70, 1.80, 1.94, 2.09, 2.23, 2.38, 2.48, 2.55,
             2.67, 2.82, 2.91, 3.03, 3.11, 3.25, 3.40, 3.52, 3.62, 3.74, 3.88, 4.03, 4.18, 4.37, 4.52, 4.66,
             4.81, 4.95, 5.10, 5.27, 5.39, 5.54, 5.73, 5.97, 6.09, 6.34, 6.58, 6.82, 7.07, 7.31, 7.55, 7.75,
             7.94, 8.13, 8.42, 8.72, 9.01, 9.30, 9.59, 9.88, 10.12, 10.32, 10.46]
bot_blu_dlog = [0.195, 0.197, 0.203, 0.182, 0.153, 0.133, 0.129, 0.129, 0.112, 0.133, 0.129, 0.104, 0.112,
                0.147, 0.112, 0.071, 0.112, 0.108, 0.125, 0.133, 0.087, 0.071, 0.050, 0.021, 0.050, 0.071,
                0.104, 0.104, 0.096, 0.087, 0.087, 0.079, 0.083, 0.063, 0.096, 0.133, 0.112, 0.087, 0.071,
                0.063, 0.059, 0.079, 0.067, 0.075, 0.083, 0.071, 0.083, 0.079, 0.075, 0.073, 0.079, 0.085,
                0.079, 0.071, 0.061, 0.050, 0.042, 0.034, 0.013]

bot_lin_slope, bot_lin_icpt = -8.7e-3, 0.13
bot_gau_slope, bot_gau_icpt = -4.8e-2, 0.28

fit_n_range = [0.63, 12.0]
gau_n_range = [0.05, 12.6]

# ---------------- STYLE ----------------
GREEN = '#12a01c'
GREEN_LINE = '#0e9a16'
PURPLE = '#a05ce6'
RED = '#ff2a08'
YELLOW = '#fff000'
BLUE = '#18a2f2'

W, H = 930, 1619
fig = plt.figure(figsize=(W / 100, H / 100), dpi=100)
axL, axW = 75 / W, 856 / W
ax1 = fig.add_axes([axL, 1 - 737 / H, axW, 727 / H])
ax2 = fig.add_axes([axL, 1 - 1546 / H, axW, 727 / H])


def style_axes(ax):
    for s in ax.spines.values():
        s.set_color('#555555')
        s.set_linewidth(1.3)
    ax.tick_params(which='both', direction='in', top=True, right=True, color='#555555',
                   labelsize=13, width=1.0)
    ax.tick_params(which='major', length=6)
    ax.tick_params(which='minor', length=3)
    ax.tick_params(axis='x', pad=5.5)
    ax.tick_params(axis='y', pad=4.5)
    ax.set_xlim(0, 12.47)
    ax.xaxis.set_major_locator(MultipleLocator(2))
    ax.xaxis.set_minor_locator(MultipleLocator(0.5))


def draw_panel(ax, sn, sy, cn, cy, rn, ry, yn, yy, bn, by, lin, gau):
    xs = np.array(gau_n_range)
    ax.plot(xs, gau[0] * xs + gau[1], color=PURPLE, lw=4.0, dashes=(3.8, 1.6), zorder=1,
            dash_capstyle='butt')
    xl = np.array(fit_n_range)
    ax.plot(xl, lin[0] * xl + lin[1], color=GREEN_LINE, lw=3.0, zorder=2)
    ax.fill(cn, cy, color='black', lw=0, zorder=3)
    ax.scatter(sn, sy, s=22, color='black', linewidths=0, zorder=3)
    ax.plot(rn, ry, color=RED, lw=4.4, zorder=4, solid_joinstyle='round')
    ax.plot(yn, yy, color=YELLOW, lw=4.4, zorder=5, solid_joinstyle='round')
    ax.plot(bn, by, color=BLUE, lw=4.4, zorder=6, solid_joinstyle='round')


draw_panel(ax1, top_n, top_dT, top_core_n, top_core_dT, top_red_n, top_red_dT, top_yel_n, top_yel_dT,
           top_blu_n, top_blu_dT, (top_lin_slope, top_lin_icpt), (top_gau_slope, top_gau_icpt))
draw_panel(ax2, bot_n, bot_dlog, bot_core_n, bot_core_dlog, bot_red_n, bot_red_dlog, bot_yel_n, bot_yel_dlog,
           bot_blu_n, bot_blu_dlog, (bot_lin_slope, bot_lin_icpt), (bot_gau_slope, bot_gau_icpt))

style_axes(ax1)
ax1.set_ylim(-100, 175)
ax1.yaxis.set_major_locator(MultipleLocator(50))
ax1.yaxis.set_minor_locator(MultipleLocator(10))

style_axes(ax2)
ax2.set_ylim(-0.3, 0.6)
ax2.yaxis.set_major_locator(FixedLocator([-0.2, 0, 0.2, 0.4, 0.6]))
ax2.yaxis.set_major_formatter(FixedFormatter(['-0.2', '0', '0.2', '0.4', '0.6']))
ax2.yaxis.set_minor_locator(MultipleLocator(0.05))

for ax in (ax1, ax2):
    for lab in ax.get_xticklabels() + ax.get_yticklabels():
        lab.set_fontweight('bold')

# ---------------- TEXT (IDL-like sub/superscripts) ----------------
renderer = fig.canvas.get_renderer()
SUB_SCALE, SUB_DROP, SUP_RAISE = 0.68, 0.55, 0.5


def seg_width(s, fs):
    t1 = fig.text(0, 0, '|' + s + '|', fontsize=fs, fontweight='bold')
    t2 = fig.text(0, 0, '||', fontsize=fs, fontweight='bold')
    w = t1.get_window_extent(renderer).width - t2.get_window_extent(renderer).width
    t1.remove()
    t2.remove()
    return w


def rich(X, Y, segs, fs, color='black', ha='left', rot=0):
    """X, Y: reference pixel position (from top-left) of the baseline anchor."""
    em = fs * 100 / 72
    parts = []
    for s, kind in segs:
        f = fs * SUB_SCALE if kind in ('b', 'p') else fs
        off = -SUB_DROP * em if kind == 'b' else (SUP_RAISE * em if kind == 'p' else 0)
        parts.append((s, f, off, seg_width(s, f)))
    total = sum(p[3] for p in parts)
    shift = {'left': 0, 'center': total / 2, 'right': total}[ha]
    cum = -shift
    for s, f, off, w in parts:
        if rot == 0:
            px, py = X + cum, (H - Y) + off
        else:
            px, py = X - off, (H - Y) + cum
        fig.text(px, py, s, fontsize=f, fontweight='bold', color=color, transform=IdentityTransform(),
                 ha='left', va='baseline', rotation=rot, rotation_mode='anchor', zorder=10)
        cum += w


rich(910, 58, [('All Local Times', 'n')], 30.5, 'black', 'right')
rich(828, 310, [('linear-regression', 'n')], 16, GREEN, 'center')
rich(828, 332, [('fit', 'n')], 16, GREEN, 'center')
rich(828, 358, [('ΔT = -4.42 n', 'n'), ('sw', 'b'), (' + 49', 'n')], 16, GREEN, 'center')
rich(674, 632, [('Gaussian', 'n')], 15.5, PURPLE, 'center')
rich(674, 653, [('fit', 'n')], 15.5, PURPLE, 'center')
rich(673, 683, [('ΔT = -15.6 n', 'n'), ('sw', 'b'), (' + 94', 'n')], 15, PURPLE, 'center')
rich(86, 697, [('R', 'n'), ('corr', 'b'), (' = -0.28', 'n')], 25.5, GREEN, 'left')

rich(910, 868, [('All Local Times', 'n')], 30.5, 'black', 'right')
rich(763, 960, [('Δlog', 'n'), ('10', 'b'), ('(T) = -8.7x10', 'n'), ('-3', 'p'), (' n', 'n'), ('sw', 'b'),
                (' + 0.13', 'n')], 15.5, GREEN, 'center')
rich(788, 990, [('linear-regression', 'n')], 16, GREEN, 'center')
rich(788, 1010, [('fit', 'n')], 16, GREEN, 'center')
rich(689, 1489, [('Gaussian', 'n')], 15.5, PURPLE, 'center')
rich(689, 1511, [('fit', 'n')], 15.5, PURPLE, 'center')
rich(688, 1532, [('Δlog', 'n'), ('10', 'b'), ('(T) = -4.8x10', 'n'), ('-2', 'p'), (' n', 'n'), ('sw', 'b'),
                 (' + 0.28', 'n')], 15.5, PURPLE, 'center')
rich(86, 1506, [('R', 'n'), ('corr', 'b'), (' = -0.18', 'n')], 25.5, GREEN, 'left')

rich(38, 384, [('ΔT', 'n'), ('24', 'b'), ('    [keV]', 'n')], 23, 'black', 'center', rot=90)
rich(37, 1192, [('Δlog', 'n'), ('10', 'b'), ('(T)', 'n'), ('24', 'b'), ('    [keV]', 'n')], 23, 'black',
     'center', rot=90)
xlab = [('n', 'n'), ('sw', 'b'), ('  average previous 24 hours    [cm', 'n'), ('-3', 'p'), (']', 'n')]
rich(502, 787, xlab, 24, 'black', 'center')
rich(502, 1597, xlab, 24, 'black', 'center')

fig.savefig('out.png', dpi=100, facecolor='white')
